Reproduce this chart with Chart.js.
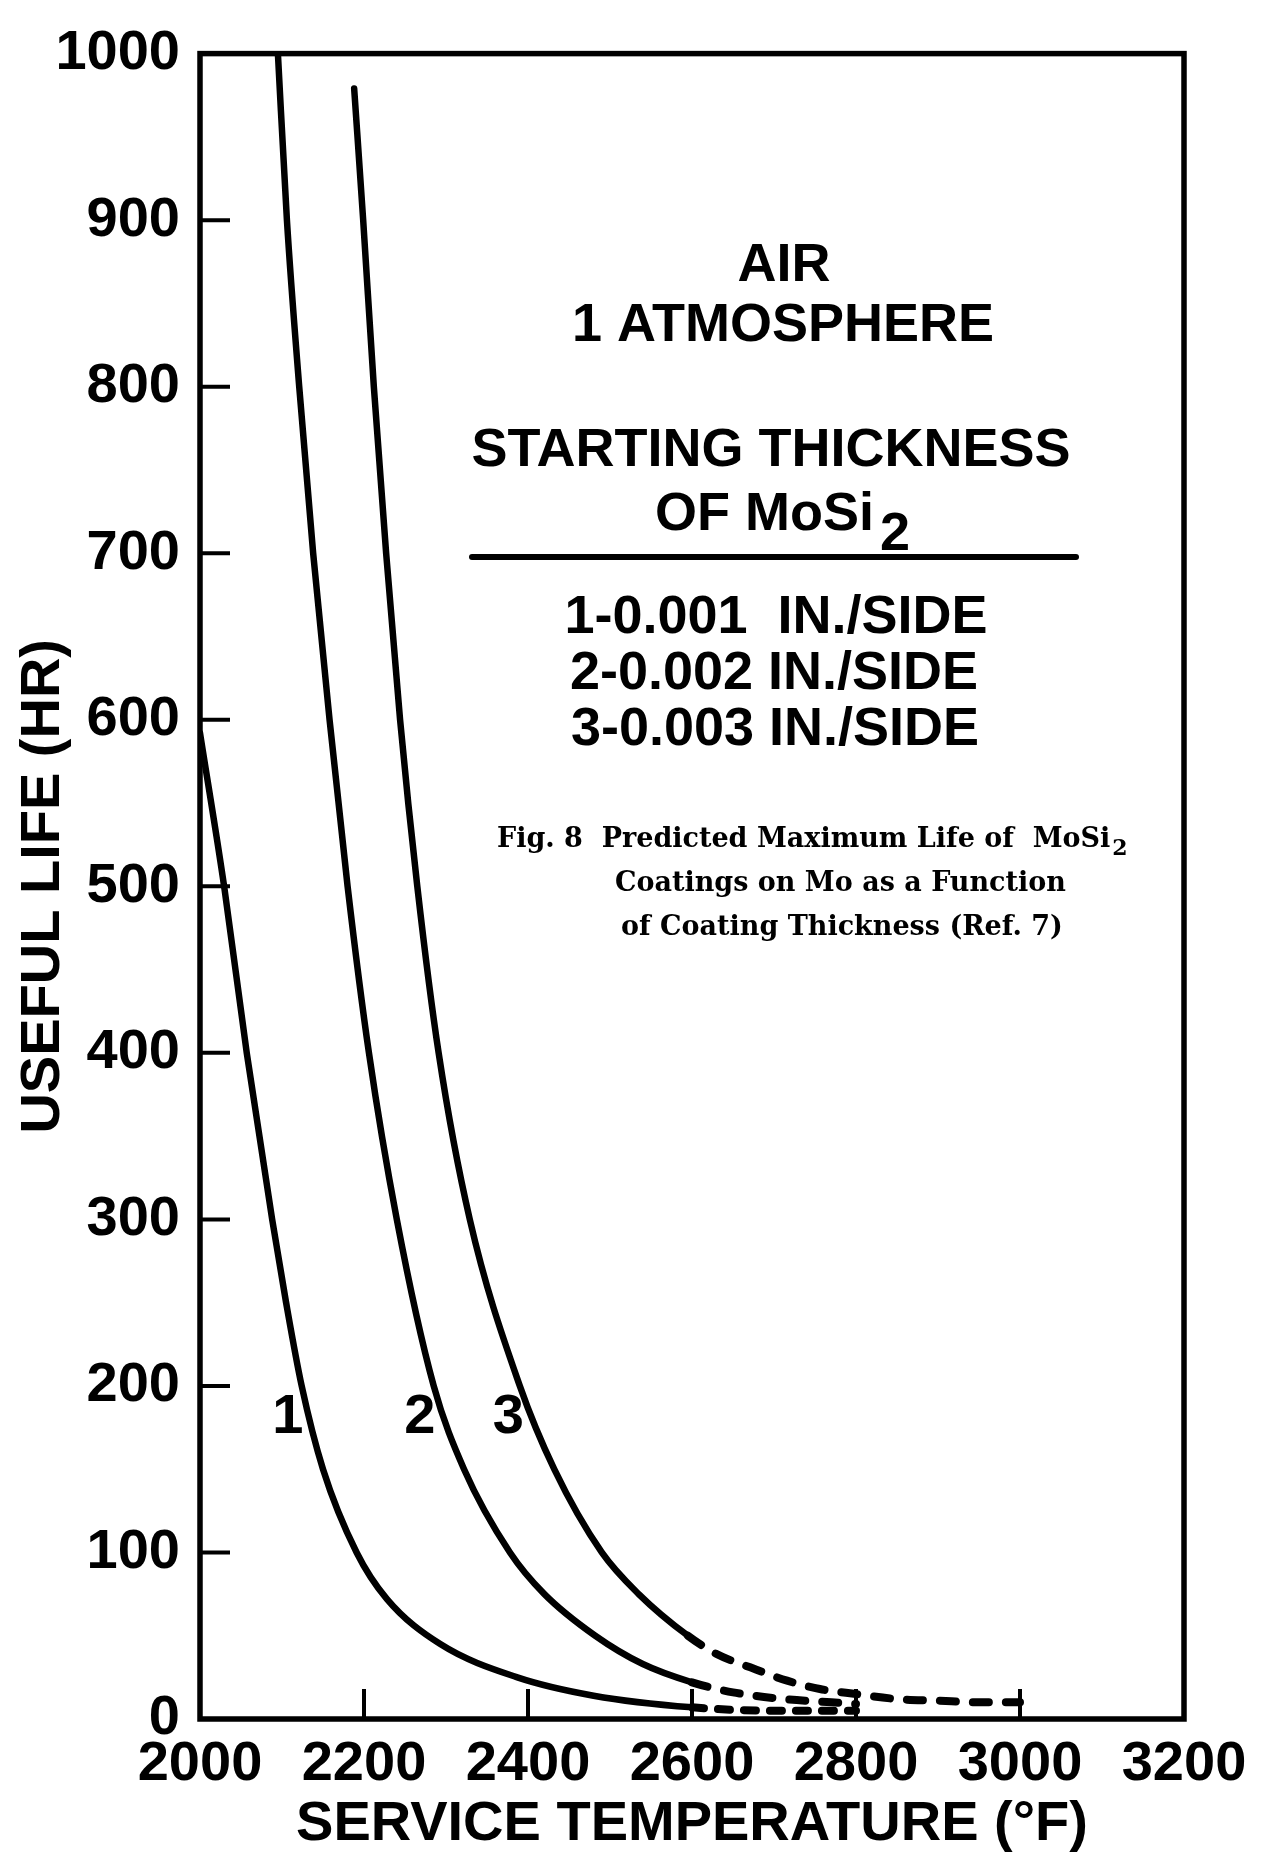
<!DOCTYPE html>
<html>
<head>
<meta charset="utf-8">
<title>Predicted maximum life of MoSi2 coatings</title>
<script src="https://cdn.jsdelivr.net/npm/chart.js@4.4.1/dist/chart.umd.min.js"></script>
<style>
  html, body { margin: 0; padding: 0; background: #fff; }
  canvas { display: block; }
</style>
</head>
<body>
<canvas id="lifeChart" width="1271" height="1858"></canvas>
<script>
// curve 1: 0.001 in./side
var temp1 = [2000, 2030, 2057, 2088, 2105, 2124, 2150, 2191, 2228, 2293, 2387, 2480, 2600, 2700, 2800];
var life1 = [592, 498, 400, 300, 250, 200, 150, 100, 72, 45, 25, 14, 7, 5, 5];
// curve 2: 0.002 in./side
var temp2 = [2095, 2106, 2121, 2138, 2158, 2180, 2206, 2240, 2285, 2322, 2378, 2420, 2482, 2540, 2600, 2650, 2711, 2770, 2800];
var life2 = [1000, 900, 800, 700, 600, 500, 400, 300, 200, 150, 100, 75, 50, 33, 22, 16, 12, 10, 9];
// curve 3: 0.003 in./side
var temp3 = [2188, 2199, 2212, 2227, 2244, 2265, 2291, 2329, 2390, 2432, 2490, 2535, 2595, 2630, 2671, 2716, 2756, 2800, 2850, 2900, 2950, 3000];
var life3 = [979, 900, 800, 700, 600, 500, 400, 300, 200, 150, 100, 75, 50, 39, 31, 23, 18, 15, 12, 11, 10, 10];
// extrapolated (dashed) beyond these temperatures
var solidEnd = [2600, 2600, 2595];

var tempTicks = [2000, 2200, 2400, 2600, 2800, 3000, 3200];
var lifeTicks = [0, 100, 200, 300, 400, 500, 600, 700, 800, 900, 1000];

function points(xs, ys) {
    return xs.map(function (x, i) { return { x: x, y: ys[i] }; });
}

function dashedPast(limit, dash) {
    return {
        borderDash: function (ctx) { return ctx.p0.parsed.x >= limit ? dash : undefined; },
        borderWidth: function (ctx) { return ctx.p0.parsed.x >= limit ? 8 : undefined; }
    };
}

function curve(xs, ys, limit, dash) {
    return {
        data: points(xs, ys),
        borderColor: '#000',
        borderWidth: 6.5,
        borderCapStyle: 'round',
        borderJoinStyle: 'round',
        pointRadius: 0,
        fill: false,
        cubicInterpolationMode: 'monotone',
        segment: dashedPast(limit, dash)
    };
}

// frame, inward tick marks, curve numbers and the key text
var notes = {
    id: 'notes',
    afterDraw: function (chart) {
        var ctx = chart.ctx, a = chart.chartArea;
        var xs = chart.scales.x, ys = chart.scales.y;
        ctx.save();
        ctx.strokeStyle = '#000';
        ctx.fillStyle = '#000';
        ctx.lineCap = 'butt';

        ctx.lineWidth = 5.5;
        ctx.strokeRect(a.left, a.top, a.right - a.left, a.bottom - a.top);

        ctx.lineWidth = 4;
        ctx.beginPath();
        lifeTicks.forEach(function (v) {
            if (v <= 0 || v >= 1000) return;
            var py = ys.getPixelForValue(v);
            ctx.moveTo(a.left, py);
            ctx.lineTo(a.left + 30, py);
        });
        tempTicks.forEach(function (v) {
            if (v <= 2000 || v >= 3200) return;
            var px = xs.getPixelForValue(v);
            ctx.moveTo(px, a.bottom);
            ctx.lineTo(px, a.bottom - 30);
        });
        ctx.stroke();

        ctx.textAlign = 'center';
        ctx.textBaseline = 'middle';
        ctx.font = 'bold 56px "Liberation Sans", Arial, sans-serif';
        ctx.fillText('1', xs.getPixelForValue(2107), ys.getPixelForValue(181));
        ctx.fillText('2', xs.getPixelForValue(2268), ys.getPixelForValue(181));
        ctx.fillText('3', xs.getPixelForValue(2376), ys.getPixelForValue(181));

        ctx.font = 'bold 54px "Liberation Sans", Arial, sans-serif';
        ctx.fillText('AIR', 784, 266);
        ctx.fillText('1 ATMOSPHERE', 783, 326);
        ctx.fillText('STARTING THICKNESS', 771, 451);
        ctx.textAlign = 'right';
        ctx.fillText('OF MoSi', 874, 515);
        ctx.textAlign = 'left';
        ctx.fillText('2', 880, 535);
        ctx.textAlign = 'center';
        ctx.fillText('1-0.001  IN./SIDE', 776, 618);
        ctx.fillText('2-0.002 IN./SIDE', 774, 674);
        ctx.fillText('3-0.003 IN./SIDE', 775, 730);

        ctx.lineWidth = 6;
        ctx.lineCap = 'round';
        ctx.beginPath();
        ctx.moveTo(472, 557);
        ctx.lineTo(1076, 557);
        ctx.stroke();

        // figure caption
        ctx.font = 'bold 27px "DejaVu Serif", serif';
        ctx.textAlign = 'left';
        var line1 = 'Fig. 8  Predicted Maximum Life of  MoSi';
        ctx.fillText(line1, 497, 840);
        var w = ctx.measureText(line1).width;
        ctx.font = 'bold 22px "DejaVu Serif", serif';
        ctx.fillText('2', 497 + w + 2, 849);
        ctx.font = 'bold 27px "DejaVu Serif", serif';
        ctx.fillText('Coatings on Mo as a Function', 615, 884);
        ctx.fillText('of Coating Thickness (Ref. 7)', 621, 928);
        ctx.restore();
    }
};

var bigFont = { family: '"Liberation Sans", Arial, sans-serif', size: 56, weight: 'bold' };

new Chart(document.getElementById('lifeChart'), {
    type: 'line',
    data: {
        datasets: [
            curve(temp1, life1, solidEnd[0], [12, 14]),
            curve(temp2, life2, solidEnd[1], [16, 17]),
            curve(temp3, life3, solidEnd[2], [16, 17])
        ]
    },
    options: {
        responsive: false,
        animation: false,
        layout: { padding: { top: 30, right: 87, left: 0, bottom: 0 } },
        plugins: {
            legend: { display: false },
            tooltip: { enabled: false }
        },
        scales: {
            x: {
                type: 'linear',
                min: 2000,
                max: 3200,
                afterBuildTicks: function (scale) {
                    scale.ticks = tempTicks.map(function (v) { return { value: v }; });
                },
                afterFit: function (scale) { scale.height = 139; },
                grid: { display: false, drawTicks: false },
                border: { display: false },
                ticks: {
                    color: '#000',
                    font: bigFont,
                    padding: 12,
                    autoSkip: false,
                    maxRotation: 0,
                    callback: function (v) { return String(v); }
                },
                title: {
                    display: true,
                    text: 'SERVICE TEMPERATURE (°F)',
                    color: '#000',
                    font: bigFont,
                    padding: { top: 0, bottom: 0 }
                }
            },
            y: {
                type: 'linear',
                min: 0,
                max: 1000,
                afterBuildTicks: function (scale) {
                    scale.ticks = lifeTicks.map(function (v) { return { value: v }; });
                },
                afterFit: function (scale) { scale.width = 200; },
                grid: { display: false, drawTicks: false },
                border: { display: false },
                ticks: {
                    color: '#000',
                    font: bigFont,
                    padding: 20,
                    autoSkip: false,
                    callback: function (v) { return String(v); }
                },
                title: {
                    display: true,
                    text: 'USEFUL LIFE (HR)',
                    color: '#000',
                    font: bigFont,
                    padding: { top: 10, bottom: 0 }
                }
            }
        }
    },
    plugins: [notes]
});
</script>
</body>
</html>
